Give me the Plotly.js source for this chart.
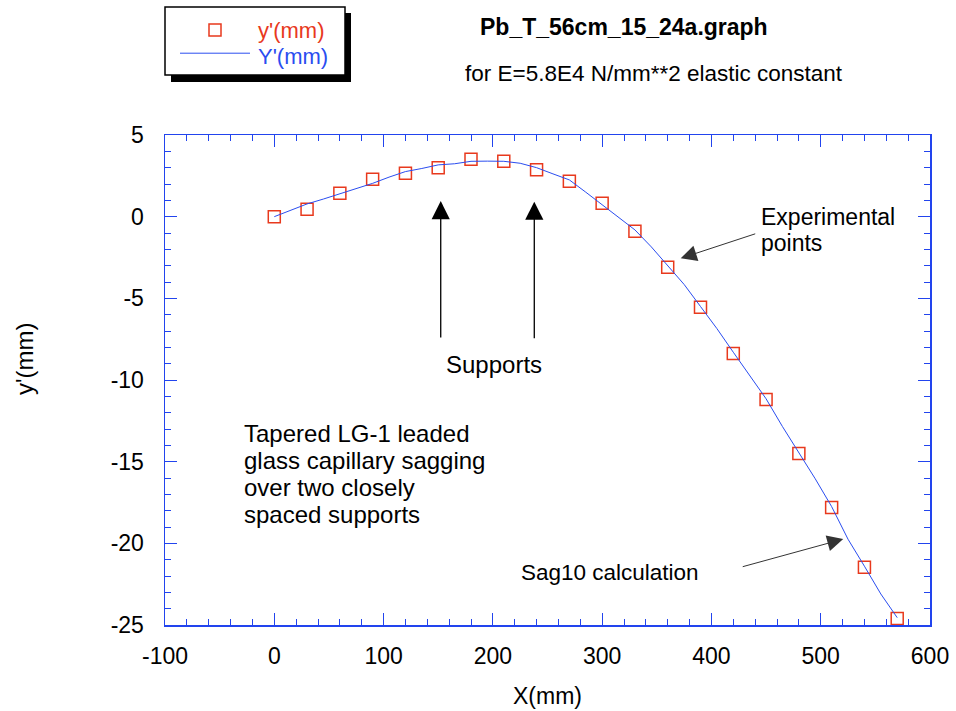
<!DOCTYPE html>
<html>
<head>
<meta charset="utf-8">
<script src="https://cdn.plot.ly/plotly-3.0.1.min.js"></script>
<style>html,body{margin:0;padding:0;background:#fff;}#chart{width:956px;height:711px;}</style>
</head>
<body>
<div id="chart"></div>
<script>
// Experimental points y'(mm)
const X_PTS = [0, 30, 60, 90, 120, 150, 180, 210, 240, 270, 300, 330, 360, 390, 420, 450, 480, 510, 540, 570];
const Y_PTS = [0, 0.45, 1.43, 2.29, 2.66, 3.0, 3.51, 3.39, 2.88, 2.17, 0.82, -0.89, -3.10, -5.55, -8.37, -11.19, -14.5, -17.8, -21.47, -24.6];
// Sag10 calculation Y'(mm)
const X_CALC = [0, 15, 30, 45, 60, 75, 90, 105, 120, 135, 150, 165, 180, 195, 210, 225, 240, 255, 270, 285, 300, 315, 330, 345, 360, 375, 390, 405, 420, 435, 450, 465, 480, 495, 510, 525, 540, 555, 570];
const Y_CALC = [0, 0.38, 0.78, 1.08, 1.39, 1.72, 2.04, 2.42, 2.76, 2.95, 3.17, 3.24, 3.39, 3.40, 3.39, 3.27, 3.00, 2.62, 2.25, 1.50, 0.72, -0.02, -0.81, -1.85, -3.00, -4.15, -5.50, -6.85, -8.30, -9.70, -11.15, -12.85, -14.45, -16.05, -17.75, -19.75, -21.40, -23.10, -24.55];

const SERIES_NAMES = ["y'(mm)", "Y'(mm)"];

const X_TICKS = [-100, 0, 100, 200, 300, 400, 500, 600];
const X_TICK_LABELS = ['-100', '0', '100', '200', '300', '400', '500', '600'];
const Y_TICKS = [-25, -20, -15, -10, -5, 0, 5];
const Y_TICK_LABELS = ['-25', '-20', '-15', '-10', '-5', '0', '5'];

const RED = '#e8391d';
const BLUE = '#2a4df0';
const AXB = '#2244ee';
const FONT = 'Liberation Sans, Arial, Helvetica, sans-serif';

// plot area in pixels
const L = 165, R = 930, T = 135, B = 625, W = 956, H = 711;
const px = v => (v - L) / (R - L);
const py = v => (B - v) / (B - T);

const traces = [
  {
    x: X_PTS, y: Y_PTS, type: 'scatter', mode: 'markers',
    name: '',
    marker: {symbol: 'square-open', size: 12, color: RED, line: {width: 1.5, color: RED}},
    legend: 'legend'
  },
  {
    x: X_CALC, y: Y_CALC, type: 'scatter', mode: 'lines',
    name: '',
    line: {color: BLUE, width: 1},
    legend: 'legend2'
  }
];

function txt(text, x, y, size, xanchor, opts) {
  return Object.assign({
    text: text, xref: 'paper', yref: 'paper', x: px(x), y: py(y),
    xanchor: xanchor, yanchor: 'middle', showarrow: false,
    font: {family: FONT, size: size, color: '#000'}
  }, opts || {});
}
function arrow(tx, ty, ax, ay, color, width, size) {
  return {
    text: '', xref: 'x', yref: 'y', x: tx, y: ty, ax: ax, ay: ay,
    showarrow: true, arrowhead: 2, arrowsize: size, arrowwidth: width, arrowcolor: color
  };
}

const layout = {
  width: W, height: H,
  margin: {l: L, r: W - R, t: T, b: H - B, autoexpand: false},
  paper_bgcolor: '#fff', plot_bgcolor: '#fff',
  font: {family: FONT, size: 23, color: '#000'},
  showlegend: true,
  legend: {
    x: px(175), y: py(30), xanchor: 'left', yanchor: 'middle',
    bgcolor: 'rgba(0,0,0,0)', borderwidth: 0, itemwidth: 70,
    font: {family: FONT, size: 16, color: RED}
  },
  legend2: {
    x: px(175), y: py(53.3), xanchor: 'left', yanchor: 'middle',
    bgcolor: 'rgba(0,0,0,0)', borderwidth: 0, itemwidth: 70,
    font: {family: FONT, size: 16, color: BLUE}
  },
  xaxis: {
    range: [-100, 600], tickmode: 'array', tickvals: X_TICKS, ticktext: X_TICK_LABELS,
    ticks: 'inside', ticklen: 12, tickwidth: 1, tickcolor: AXB,
    showline: true, linecolor: AXB, linewidth: 1.5, mirror: 'allticks',
    showgrid: false, zeroline: false,
    minor: {dtick: 20, ticks: 'inside', ticklen: 6, tickwidth: 1, tickcolor: AXB, showgrid: false},
    tickfont: {family: FONT, size: 23, color: '#000'},
    ticklabelstandoff: 10,
    title: {text: 'X(mm)', font: {family: FONT, size: 23, color: '#000'}, standoff: 20}
  },
  yaxis: {
    range: [-25, 5], tickmode: 'array', tickvals: Y_TICKS, ticktext: Y_TICK_LABELS,
    ticks: 'inside', ticklen: 12, tickwidth: 1, tickcolor: AXB,
    showline: true, linecolor: AXB, linewidth: 1.5, mirror: 'allticks',
    showgrid: false, zeroline: false,
    minor: {dtick: 1, ticks: 'inside', ticklen: 6, tickwidth: 1, tickcolor: AXB, showgrid: false},
    tickfont: {family: FONT, size: 23, color: '#000'},
    ticklabelstandoff: 15
  },
  shapes: [
    {type: 'rect', xref: 'paper', yref: 'paper', x0: px(171), x1: px(351), y0: py(82), y1: py(13),
     fillcolor: '#000', line: {width: 0}},
    {type: 'rect', xref: 'paper', yref: 'paper', x0: px(165), x1: px(345), y0: py(75), y1: py(7),
     fillcolor: '#fff', line: {color: '#000', width: 1.5}}
  ],
  annotations: [
    txt(SERIES_NAMES[0], 256, 30.5, 22, 'left', {font: {family: FONT, size: 22, color: RED}}),
    txt(SERIES_NAMES[1], 256, 56.5, 22, 'left', {font: {family: FONT, size: 22, color: BLUE}}),
    txt('<b>Pb_T_56cm_15_24a.graph</b>', 624, 27, 23, 'center'),
    txt('for E=5.8E4 N/mm**2 elastic constant', 654, 73, 22.5, 'center'),
    txt("y'(mm)", 24, 359, 24, 'center', {textangle: -90}),
    txt('Experimental', 759, 217, 23, 'left'),
    txt('points', 759, 243, 23, 'left'),
    txt('Supports', 494, 364, 24, 'center'),
    txt('Tapered LG-1 leaded', 242, 433, 24, 'left'),
    txt('glass capillary sagging', 242, 460, 24, 'left'),
    txt('over two closely', 242, 487, 24, 'left'),
    txt('spaced supports', 242, 514, 24, 'left'),
    txt('Sag10 calculation', 519, 572, 22.5, 'left'),
    arrow(152.3, 0.96, 0, 138, '#000', 1.3, 2.8),
    arrow(237.9, 0.92, 0, 138, '#000', 1.3, 2.8),
    arrow(371.9, -2.55, 76, -25, '#333', 1, 3.2),
    arrow(520.6, -19.74, -102, 28, '#333', 1, 3.2)
  ]
};

Plotly.newPlot('chart', traces, layout, {displayModeBar: false, staticPlot: true});
</script>
</body>
</html>
